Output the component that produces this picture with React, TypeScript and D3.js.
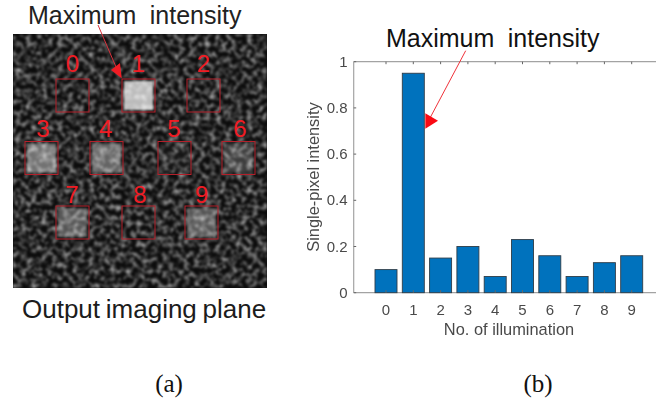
import React from "react";
import * as d3 from "d3";

const illumination = [0, 1, 2, 3, 4, 5, 6, 7, 8, 9];
const intensity = [0.1, 0.95, 0.15, 0.2, 0.07, 0.23, 0.16, 0.07, 0.13, 0.16];
const yTicks = [0, 0.2, 0.4, 0.6, 0.8, 1];
const yTickLabels = ["0", "0.2", "0.4", "0.6", "0.8", "1"];
const squareLabels = ["0", "1", "2", "3", "4", "5", "6", "7", "8", "9"];
const squareCol = [56, 122, 187, 25, 90, 158, 222, 56, 122, 185];
const squareRow = [79, 79, 79, 141.5, 141.5, 141.5, 141.5, 206, 206, 206];
const squareLabelX = [72.5, 138.5, 203.5, 43, 105.7, 174, 240, 72, 140, 201.7];
const squareLabelY = [71.7, 71.7, 71.7, 136.7, 136.7, 136.7, 136.7, 202.6, 202.6, 202.6];
const squareLevel = [0, 0.72, 0, 0.42, 0.36, 0.03, 0.2, 0.3, 0, 0.3];

const sans = "'Liberation Sans', Arial, sans-serif";
const serif = "'Liberation Serif', 'Times New Roman', serif";
const red = "#f01c24";
const ink = "#4a4a4a";
const axisGray = "#a3a3a3";

export default function App() {
  const x = d3.scaleLinear().domain([0, 9]).range([386, 631.7]);
  const y = d3.scaleLinear().domain([0, 1]).range([292.7, 61.7]);
  const barW = 22;
  const S = 33;
  return (
    <svg width={656} height={403} viewBox="0 0 656 403"
      style={{ position: "absolute", left: 0, top: 0, background: "#fff" }}>
      <defs>
        <filter id="noise" x="0" y="0" width="100%" height="100%" colorInterpolationFilters="sRGB">
          <feTurbulence type="fractalNoise" baseFrequency="0.19" numOctaves={2} seed={7} />
          <feColorMatrix type="matrix" values="1.5 0 0 0 -0.62  1.5 0 0 0 -0.62  1.5 0 0 0 -0.62  0 0 0 0 1" />
          <feGaussianBlur stdDeviation="0.8" />
        </filter>
        <filter id="patchBlur" x="-20%" y="-20%" width="140%" height="140%">
          <feGaussianBlur stdDeviation="1" />
        </filter>
        <filter id="soft" x="-5%" y="-5%" width="110%" height="110%">
          <feGaussianBlur stdDeviation="0.35" />
        </filter>
        <clipPath id="imgClip"><rect x={13} y={34} width={254} height={254} /></clipPath>
      </defs>

      {/* (a) imaging plane */}
      <g clipPath="url(#imgClip)">
        <rect x={13} y={34} width={254} height={254} fill="#0c0c0c" />
        {squareLevel.map((l, i) => (
          <rect key={i} x={squareCol[i] + 2} y={squareRow[i] + 2} width={S - 4} height={S - 4}
            fill="#fff" opacity={l} filter="url(#patchBlur)" />
        ))}
        <rect x={13} y={34} width={254} height={254} filter="url(#noise)"
          style={{ mixBlendMode: "screen" }} />
      </g>
      {squareCol.map((c, i) => (
        <rect key={i} x={c} y={squareRow[i]} width={S} height={S} fill="none" stroke="#b3202a" strokeWidth={1} />
      ))}
      {squareLabels.map((t, i) => (
        <text key={t} x={squareLabelX[i]} y={squareLabelY[i]} textAnchor="middle"
          fontFamily={sans} fontSize={24} fill={red}>{t}</text>
      ))}
      <line x1={98} y1={25} x2={116} y2={67} stroke="#d8303a" strokeWidth={1} />
      <polygon points="121.7,78.3 111,70 120,63" fill={red} />

      <text x={28} y={24} fontFamily={sans} fontSize={25} wordSpacing={6.5} fill="#222">Maximum intensity</text>
      <text x={22} y={318} fontFamily={sans} fontSize={26} wordSpacing={-1.5} fill="#1c1c1c">Output imaging plane</text>
      <text x={169} y={392} textAnchor="middle" fontFamily={serif} fontSize={25} fill="#111">(a)</text>

      {/* (b) bar chart */}
      <g filter="url(#soft)">
        <line x1={353.7} x2={656} y1={y(1)} y2={y(1)} stroke={axisGray} strokeWidth={1.2} />
        <line x1={353.7} x2={656} y1={y(0)} y2={y(0)} stroke={axisGray} strokeWidth={1.2} />
        <line x1={353.7} x2={353.7} y1={y(1)} y2={y(0)} stroke={axisGray} strokeWidth={1.2} />
        {intensity.map((v, i) => (
          <rect key={i} x={x(illumination[i]) - barW / 2} y={y(v)} width={barW} height={y(0) - y(v)}
            fill="#0072bd" stroke="#2f3d48" strokeWidth={0.9} />
        ))}
        {illumination.map((d) => (
          <g key={d} stroke="#666" strokeWidth={1}>
            <line x1={x(d)} x2={x(d)} y1={y(0)} y2={y(0) - 2.5} />
            <line x1={x(d)} x2={x(d)} y1={y(1)} y2={y(1) + 2.5} />
          </g>
        ))}
        {yTicks.map((t) => (
          <line key={t} x1={353.7} x2={356.2} y1={y(t)} y2={y(t)} stroke="#666" strokeWidth={1} />
        ))}
        {yTicks.map((t, i) => (
          <text key={t} x={347.5} y={y(t) + 5} textAnchor="end" fontFamily={sans} fontSize={15} fill={ink}>
            {yTickLabels[i]}
          </text>
        ))}
        {illumination.map((d) => (
          <text key={d} x={x(d)} y={315} textAnchor="middle" fontFamily={sans} fontSize={15} fill={ink}>{d}</text>
        ))}
        <text x={509} y={335} textAnchor="middle" fontFamily={sans} fontSize={16.4} fill={ink}>No. of illumination</text>
        <text transform="translate(319,177) rotate(-90)" textAnchor="middle" fontFamily={sans} fontSize={16.4} fill={ink}>
          Single-pixel intensity
        </text>
      </g>
      <line x1={465.7} y1={50.7} x2={430} y2={118} stroke="#f0323a" strokeWidth={1} />
      <polygon points="425.3,113.3 438,120.7 425.3,128.7" fill="#fa0a14" />
      <text x={386} y={46.5} fontFamily={sans} fontSize={25} wordSpacing={6.5} fill="#111">Maximum intensity</text>
      <text x={538} y={392} textAnchor="middle" fontFamily={serif} fontSize={25} fill="#111">(b)</text>
    </svg>
  );
}
